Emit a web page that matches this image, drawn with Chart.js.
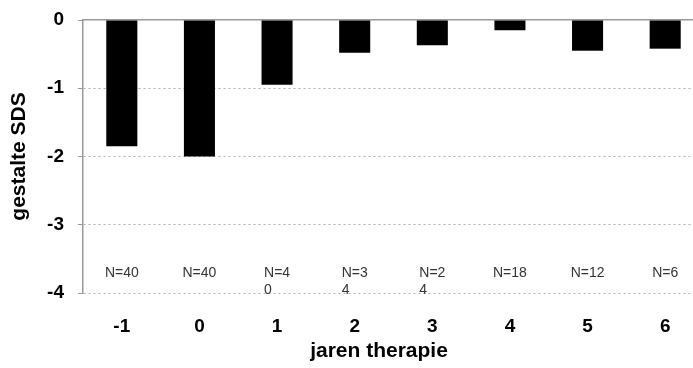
<!DOCTYPE html>
<html>
<head>
<meta charset="utf-8">
<script src="https://cdn.jsdelivr.net/npm/chart.js@4.4.0/dist/chart.umd.min.js"></script>
<style>
html, body { margin: 0; padding: 0; background: #fff; overflow: hidden; }
#wrap { width: 712px; height: 368px; }
</style>
</head>
<body>
<div id="wrap"><canvas id="sdsChart" width="712" height="368"></canvas></div>
<script>
const categories = ['-1', '0', '1', '2', '3', '4', '5', '6'];
const sdsValues = [-1.85, -2.0, -0.95, -0.48, -0.37, -0.15, -0.45, -0.42];
const nLabels = ['N=40', 'N=40', ['N=4', '0'], ['N=3', '4'], ['N=2', '4'], 'N=18', 'N=12', 'N=6'];
const yMin = -4;
const yMax = 0;
const xTitle = 'jaren therapie';
const yTitle = 'gestalte SDS';

const FONT = '"Liberation Sans", Arial, sans-serif';

// N= counts under the bars + x title (drawn off-centre like the original)
const notesPlugin = {
    id: 'notes',
    afterDraw(chart) {
        const ctx = chart.ctx;
        const xs = chart.scales.x;
        const ys = chart.scales.y;
        const baseY = ys.getPixelForValue(yMin) - 20;
        ctx.save();
        ctx.font = '14px ' + FONT;
        ctx.fillStyle = '#333';
        ctx.textBaseline = 'middle';
        nLabels.forEach((lab, i) => {
            const cx = xs.getPixelForValue(i);
            const lines = Array.isArray(lab) ? lab : [lab];
            const w = ctx.measureText(lines[0]).width;
            ctx.textAlign = 'left';
            lines.forEach((ln, k) => ctx.fillText(ln, cx - w / 2, baseY + k * 17));
        });
        ctx.font = 'bold 21px ' + FONT;
        ctx.fillStyle = '#000';
        ctx.textAlign = 'center';
        ctx.fillText(xTitle, 379, 351);
        ctx.restore();
    }
};

new Chart(document.getElementById('sdsChart'), {
    type: 'bar',
    data: {
        labels: categories,
        datasets: [{
            data: sdsValues,
            backgroundColor: '#000',
            borderWidth: 0,
            barPercentage: 0.4,
            categoryPercentage: 1.0
        }]
    },
    options: {
        responsive: false,
        animation: false,
        layout: { padding: { top: 20, right: 8, left: 0, bottom: 0 } },
        plugins: { legend: { display: false }, tooltip: { enabled: false } },
        scales: {
            x: {
                grid: { display: false, drawTicks: false },
                border: { display: false },
                ticks: { color: '#000', padding: 22, font: { family: FONT, size: 19, weight: 'bold' } },
                afterFit: s => { s.height = 75; s.paddingLeft = 0; s.paddingRight = 0; }
            },
            xTop: {
                type: 'category',
                position: 'top',
                grid: { display: false, drawTicks: false },
                border: { color: '#999', width: 1.5 },
                ticks: { display: false },
                afterFit: s => { s.height = 0; }
            },
            y: {
                min: yMin,
                max: yMax,
                ticks: { stepSize: 1, color: '#000', padding: 14, font: { family: FONT, size: 19, weight: 'bold' } },
                grid: {
                    color: c => c.tick && c.tick.value === 0 ? 'rgba(0,0,0,0)' : '#b0b0b0',
                    tickColor: '#999',
                    tickLength: 5
                },
                border: { color: '#999', width: 1.5, dash: [2, 3] },
                title: { display: true, text: yTitle, color: '#000', padding: { top: 7, bottom: 0 }, font: { family: FONT, size: 21, weight: 'bold' } },
                afterFit: s => { s.width = 83; s.paddingTop = 0; s.paddingBottom = 0; }
            }
        }
    },
    plugins: [notesPlugin]
});
</script>
</body>
</html>
